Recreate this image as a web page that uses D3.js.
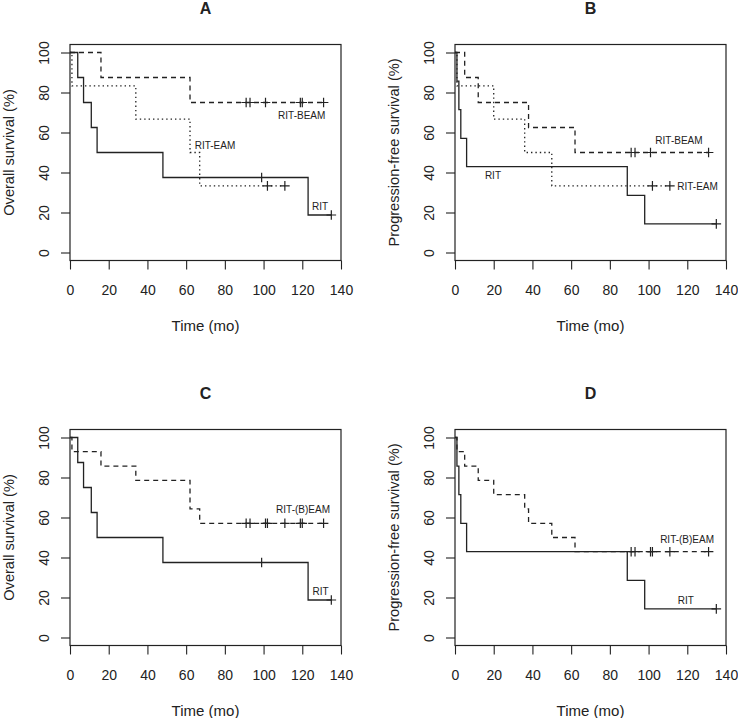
<!DOCTYPE html>
<html><head><meta charset="utf-8">
<script src="https://cdn.jsdelivr.net/npm/d3@7"></script>
<style>body{margin:0;background:#fff}svg{display:block}</style>
</head><body><svg id="c" width="738" height="718"></svg>
<script>
// ---- data ----
const panelTitles = ["A", "B", "C", "D"];
const yAxisLabels = ["Overall survival (%)", "Progression-free survival (%)", "Overall survival (%)", "Progression-free survival (%)"];
const xAxisLabel = "Time (mo)";
const xTicks = [0, 20, 40, 60, 80, 100, 120, 140];
const yTicks = [0, 20, 40, 60, 80, 100];

// Overall survival, RIT
const osRitTimes = [0, 4, 7, 11, 14, 48, 123];
const osRitSurv = [100, 87.5, 75, 62.5, 50, 37.5, 18.75];
const osRitCensor = [99, 135];
// Overall survival, RIT-BEAM
const osBeamTimes = [0, 16, 62];
const osBeamSurv = [100, 87.5, 75];
const osBeamCensor = [91, 93, 101, 119, 120, 131];
// Overall survival, RIT-EAM
const osEamTimes = [0, 1, 34, 62, 67];
const osEamSurv = [100, 83.3, 66.7, 50, 33.3];
const osEamCensor = [102, 111];
// Overall survival, RIT-(B)EAM
const osBEamTimes = [0, 1, 16, 34, 62, 67];
const osBEamSurv = [100, 92.9, 85.7, 78.6, 64.3, 57.1];
const osBEamCensor = [91, 93, 101, 102, 111, 119, 120, 131];

// Progression-free survival, RIT
const pfsRitTimes = [0, 1, 2, 3, 6, 89, 98];
const pfsRitSurv = [100, 85.7, 71.4, 57.1, 42.9, 28.6, 14.3];
const pfsRitCensor = [135];
// PFS, RIT-BEAM
const pfsBeamTimes = [0, 5, 12, 38, 62];
const pfsBeamSurv = [100, 87.5, 75, 62.5, 50];
const pfsBeamCensor = [91, 93, 101, 131];
// PFS, RIT-EAM
const pfsEamTimes = [0, 1, 20, 36, 50];
const pfsEamSurv = [100, 83.3, 66.7, 50, 33.3];
const pfsEamCensor = [102, 111];
// PFS, RIT-(B)EAM
const pfsBEamTimes = [0, 1, 5, 12, 20, 36, 38, 50, 62];
const pfsBEamSurv = [100, 92.9, 85.7, 78.6, 71.4, 64.3, 57.1, 50, 42.9];
const pfsBEamCensor = [91, 93, 101, 102, 111, 131];

// curve labels: text, time, survival at label centre
const labelsA = [["RIT-BEAM", 119.7, 68.7], ["RIT-EAM", 74.9, 53.4], ["RIT", 129.2, 22.9]];
const labelsB = [["RIT-BEAM", 115.7, 55.9], ["RIT", 19.6, 38.7], ["RIT-EAM", 125.3, 33.2]];
const labelsC = [["RIT-(B)EAM", 120.4, 64.2], ["RIT", 129.5, 22.8]];
const labelsD = [["RIT-(B)EAM", 119.9, 49.2], ["RIT", 119.2, 18.3]];

// ---- drawing ----
const ink = "#222";
const font = "'Liberation Sans', Arial, Helvetica, sans-serif";
const svg = d3.select("#c");

const lineStyles = { solid: null, dashed: "5,4", dotted: "1.4,3" };

const panels = [
  { title: panelTitles[0], ylab: yAxisLabels[0], left: 70, top: 44.5, labels: labelsA,
    curves: [[osBeamTimes, osBeamSurv, osBeamCensor, "dashed"], [osEamTimes, osEamSurv, osEamCensor, "dotted"], [osRitTimes, osRitSurv, osRitCensor, "solid"]] },
  { title: panelTitles[1], ylab: yAxisLabels[1], left: 455, top: 44.5, labels: labelsB,
    curves: [[pfsBeamTimes, pfsBeamSurv, pfsBeamCensor, "dashed"], [pfsEamTimes, pfsEamSurv, pfsEamCensor, "dotted"], [pfsRitTimes, pfsRitSurv, pfsRitCensor, "solid"]] },
  { title: panelTitles[2], ylab: yAxisLabels[2], left: 70, top: 429.5, labels: labelsC,
    curves: [[osBEamTimes, osBEamSurv, osBEamCensor, "dashed"], [osRitTimes, osRitSurv, osRitCensor, "solid"]] },
  { title: panelTitles[3], ylab: yAxisLabels[3], left: 455, top: 429.5, labels: labelsD,
    curves: [[pfsBEamTimes, pfsBEamSurv, pfsBEamCensor, "dashed"], [pfsRitTimes, pfsRitSurv, pfsRitCensor, "solid"]] }
];

const W = 271, H = 216;

panels.forEach(p => {
  const g = svg.append("g").attr("transform", `translate(${p.left},${p.top})`);
  const x = d3.scaleLinear().domain([0, 140]).range([0, W]);
  const y = d3.scaleLinear().domain([-4, 104]).range([H, 0]);

  // curves
  p.curves.forEach(([times, surv, censor, style]) => {
    const end = Math.max(times[times.length - 1], ...censor);
    const pts = times.map((t, i) => [t, surv[i]]);
    pts.push([end, surv[surv.length - 1]]);
    const line = d3.line().x(d => x(d[0])).y(d => y(d[1])).curve(d3.curveStepAfter);
    g.append("path").attr("d", line(pts)).attr("fill", "none")
      .attr("stroke", ink).attr("stroke-width", 1.3)
      .attr("stroke-dasharray", lineStyles[style]);
    const survAt = t => { let s = surv[0]; times.forEach((tt, i) => { if (tt <= t) s = surv[i]; }); return s; };
    censor.forEach(c => {
      const cx = x(c), cy = y(survAt(c)), r = 4.8;
      g.append("path").attr("d", `M${cx - r},${cy}H${cx + r}M${cx},${cy - r}V${cy + r}`)
        .attr("stroke", ink).attr("stroke-width", 1.2).attr("fill", "none");
    });
  });

  // curve labels
  p.labels.forEach(([txt, t, s]) => {
    g.append("text").attr("x", x(t)).attr("y", y(s)).attr("dy", "0.35em")
      .attr("text-anchor", "middle").attr("font-family", font).attr("font-size", 10)
      .attr("fill", ink).text(txt);
  });

  // frame
  g.append("rect").attr("x", 0).attr("y", 0).attr("width", W).attr("height", H)
    .attr("fill", "none").attr("stroke", ink).attr("stroke-width", 1.2);

  // x axis
  const xa = g.append("g").attr("transform", `translate(0,${H})`)
    .call(d3.axisBottom(x).tickValues(xTicks).tickSize(9).tickPadding(0).tickFormat(d3.format("d")));
  xa.select(".domain").remove();
  xa.selectAll("line").attr("stroke", ink).attr("stroke-width", 1.1);
  xa.selectAll("text").attr("font-family", font).attr("font-size", 14).attr("fill", ink)
    .attr("y", 34).attr("dy", null);

  // y axis
  const ya = g.append("g")
    .call(d3.axisLeft(y).tickValues(yTicks).tickSize(9).tickPadding(0).tickFormat(d3.format("d")));
  ya.select(".domain").remove();
  ya.selectAll("line").attr("stroke", ink).attr("stroke-width", 1.1);
  ya.selectAll("text").attr("font-family", font).attr("font-size", 14).attr("fill", ink)
    .attr("x", null).attr("dy", null).attr("text-anchor", "middle")
    .attr("transform", "translate(-21,0) rotate(-90)");

  // axis titles
  g.append("text").attr("x", W / 2).attr("y", H + 70).attr("text-anchor", "middle")
    .attr("font-family", font).attr("font-size", 15).attr("fill", ink).text(xAxisLabel);
  g.append("text").attr("transform", `translate(-56,${y(50)}) rotate(-90)`)
    .attr("text-anchor", "middle").attr("font-family", font).attr("font-size", 14.6)
    .attr("fill", ink).text(p.ylab);

  // panel title
  g.append("text").attr("x", W / 2).attr("y", -31).attr("text-anchor", "middle")
    .attr("font-family", font).attr("font-size", 16).attr("font-weight", "bold")
    .attr("fill", ink).text(p.title);
});
</script></body></html>
